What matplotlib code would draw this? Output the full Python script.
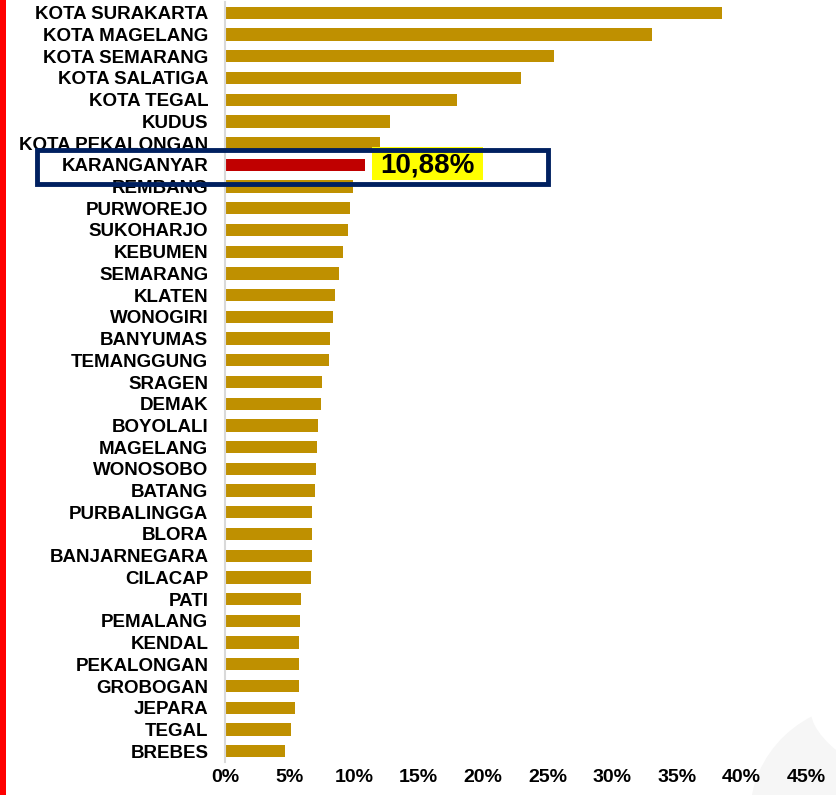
import matplotlib.pyplot as plt
from matplotlib.patches import Rectangle, Circle, Ellipse
from matplotlib.ticker import FuncFormatter

plt.rcParams["font.family"] = ["Liberation Sans", "DejaVu Sans"]

# Regencies / cities, share in percent
regions = ["KOTA SURAKARTA", "KOTA MAGELANG", "KOTA SEMARANG", "KOTA SALATIGA", "KOTA TEGAL",
           "KUDUS", "KOTA PEKALONGAN", "KARANGANYAR", "REMBANG", "PURWOREJO", "SUKOHARJO",
           "KEBUMEN", "SEMARANG", "KLATEN", "WONOGIRI", "BANYUMAS", "TEMANGGUNG", "SRAGEN",
           "DEMAK", "BOYOLALI", "MAGELANG", "WONOSOBO", "BATANG", "PURBALINGGA", "BLORA",
           "BANJARNEGARA", "CILACAP", "PATI", "PEMALANG", "KENDAL", "PEKALONGAN", "GROBOGAN",
           "JEPARA", "TEGAL", "BREBES"]
values = [38.5, 33.1, 25.5, 22.9, 18.0,
          12.8, 12.0, 10.88, 9.95, 9.7, 9.5,
          9.15, 8.8, 8.55, 8.4, 8.15, 8.05, 7.5,
          7.45, 7.2, 7.15, 7.05, 7.0, 6.75, 6.7,
          6.7, 6.65, 5.9, 5.8, 5.75, 5.7, 5.7,
          5.45, 5.15, 4.65]
highlight = "KARANGANYAR"
highlight_label = "10,88%"
xticks = [0, 5, 10, 15, 20, 25, 30, 35, 40, 45]

gold = "#BF9000"
red = "#C00000"
navy = "#002060"

fig = plt.figure(figsize=(8.36, 7.95), dpi=100)

# Faint watermark in the lower right corner
fig.add_artist(Circle((868 / 836, 1 - 815 / 795), 118 / 836, transform=fig.transFigure,
                      facecolor="#F6F6F6", edgecolor="none", zorder=0))
fig.add_artist(Ellipse((850 / 836, 1 - 735 / 795), 95 / 836, 40 / 795, angle=-40,
                       transform=fig.transFigure, facecolor="white", edgecolor="none", zorder=0))

ax = fig.add_axes([225 / 836, 1 - 762 / 795, (806 - 225) / 836, 760 / 795])
ax.patch.set_alpha(0)

ys = list(range(len(regions)))
colours = [red if r == highlight else gold for r in regions]
ax.barh(ys, values, height=0.56, color=colours, zorder=2)

ax.set_xlim(0, 45)
ax.set_ylim(len(regions) - 0.5, -0.5)
ax.set_yticks(ys)
ax.set_yticklabels(regions, fontsize=13.5, fontweight="bold")
ax.set_xticks(xticks)
ax.xaxis.set_major_formatter(FuncFormatter(lambda v, p: f"{v:.0f}%"))
for lab in ax.get_xticklabels():
    lab.set_fontsize(14)
    lab.set_fontweight("bold")
ax.tick_params(axis="y", length=0, pad=12)
ax.tick_params(axis="x", length=0, pad=5)
for side in ["top", "right", "bottom"]:
    ax.spines[side].set_visible(False)
ax.spines["left"].set_color("#D9D9D9")
ax.spines["left"].set_linewidth(1.5)

# Highlight for the selected region
hi = regions.index(highlight)
ax.add_patch(Rectangle((11.4, hi - 0.83), 8.6, 1.53, facecolor="#FFFF00", edgecolor="none", zorder=3))
ax.text(15.7, hi + 0.05, highlight_label, fontsize=20, fontweight="bold", ha="center", va="center", zorder=5)
x0 = (37 - 225) / (806 - 225) * 45
ax.add_patch(Rectangle((x0, hi - 0.69), 25.0 - x0, 1.57, facecolor="none", edgecolor=navy,
                       linewidth=3.5, clip_on=False, zorder=4))

# Red strip on the left edge
fig.add_artist(Rectangle((0, 0), 6 / 836, 1, transform=fig.transFigure, facecolor="#FF0000",
                         edgecolor="none"))

fig.savefig("out.png", dpi=100)
